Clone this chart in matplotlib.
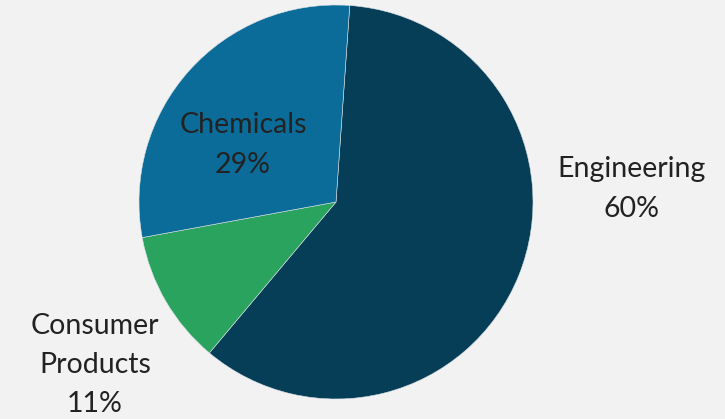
import matplotlib.pyplot as plt

# data
sectors = ['Engineering', 'Consumer Products', 'Chemicals']
shares = [60, 11, 29]
colors = ['#063d57', '#2aa35f', '#0b6c99']

# label text and placement (pixel coords, y from top)
label_text = ['Engineering', 'Consumer\nProducts', 'Chemicals']
label_pos = [(632, 189), (95, 365), (243, 145)]

W, H = 725, 419
fig = plt.figure(figsize=(W / 100, H / 100), dpi=100, facecolor='#f2f2f2')
ax = fig.add_axes([0, 0, 1, 1])
ax.set_facecolor('#f2f2f2')

cx, cy, r = 336, 202, 197
ax.pie(shares, colors=colors, startangle=86, counterclock=False,
       center=(cx, H - cy), radius=r, frame=True,
       wedgeprops=dict(edgecolor='#d8e0e4', linewidth=0.4))

ax.set_xlim(0, W)
ax.set_ylim(0, H)
ax.set_aspect('equal')
ax.axis('off')

for txt, val, (x, y) in zip(label_text, shares, label_pos):
    ax.text(x, H - y, f'{txt}\n{val}%', ha='center', va='center',
            fontsize=20.5, family='Lato', color='#222222',
            linespacing=1.62)

plt.savefig('out.png', dpi=100, facecolor=fig.get_facecolor())
